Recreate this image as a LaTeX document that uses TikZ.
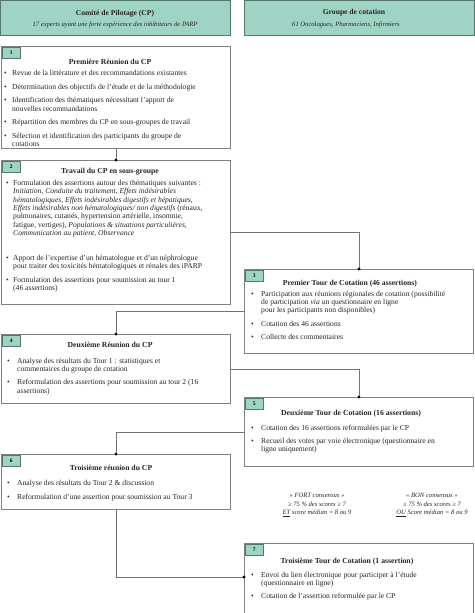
\documentclass[tikz,border=0pt]{standalone}
\usepackage{fontspec}
\setmainfont{Liberation Serif}
\usetikzlibrary{shadows}
\definecolor{teal1}{HTML}{9FD4C4}
\definecolor{teal2}{HTML}{55786E}
\definecolor{boxline}{HTML}{808080}
\definecolor{txt}{HTML}{262626}
\newcommand{\bl}{\textbullet}
\tikzset{
 hdr/.style={draw=teal2, fill=teal1, line width=0.6pt, anchor=north west, minimum width=230pt, minimum height=35pt, inner sep=0pt, drop shadow={shadow xshift=0.8pt, shadow yshift=-0.8pt, opacity=0.7, fill=gray!80!black}},
 box/.style={draw=boxline, fill=white, line width=0.8pt, anchor=north west, inner sep=0pt, drop shadow={shadow xshift=0.9pt, shadow yshift=-0.9pt, opacity=0.7, fill=gray!70!black}},
 tabbox/.style={draw=teal2, fill=teal1, line width=0.5pt, anchor=north west, minimum width=18pt, minimum height=10.5pt, inner sep=0pt, font=\fontsize{5.5}{6}\selectfont\bfseries},
 htitle/.style={font=\fontsize{7.6}{8}\selectfont\bfseries, text=txt},
 hsub/.style={font=\fontsize{6.6}{7}\selectfont\itshape, text=txt},
 ttl/.style={font=\fontsize{7.7}{8}\selectfont\bfseries, text=txt},
 lst/.style={anchor=base west, inner sep=0pt, font=\fontsize{7.6}{8.3}\selectfont, text=txt},
 cons/.style={align=center, font=\fontsize{6.6}{8.6}\selectfont\itshape, text=txt},
 conn/.style={draw=gray!90!black, line width=0.7pt},
 dot/.style={fill=black},
}
\begin{document}
\begin{tikzpicture}[x=1pt,y=-1pt]
\useasboundingbox (0,0) rectangle (474,613);
% headers
\node[hdr] (hL) at (0,0) {};
\node[hdr] (hR) at (244,0) {};
\node[htitle] (hLt) at (115,14) {Comité de Pilotage (CP)};
\node[hsub] (hLs) at (115,25) {17 experts ayant une forte expérience des inhibiteurs de PARP};
\node[htitle] (hRt) at (354,13) {Groupe de cotation};
\node[hsub] (hRs) at (346,25) {61 Oncologues, Pharmaciens, Infirmiers};
% boxes
\node[box, minimum width=229pt, minimum height=102pt] (b1) at (1,46) {};
\node[box, minimum width=229pt, minimum height=144pt] (b2) at (1,160) {};
\node[box, minimum width=229pt, minimum height=84pt] (b3) at (244,269) {};
\node[box, minimum width=229pt, minimum height=69pt] (b4) at (1,334) {};
\node[box, minimum width=229pt, minimum height=69pt] (b5) at (244,397) {};
\node[box, minimum width=229pt, minimum height=55pt] (b6) at (1,454) {};
\node[box, minimum width=229pt, minimum height=80pt] (b7) at (244,543) {};
\path (b7.north west) ++(0,34) coordinate (b7w);
% tabs
\node[tabbox] (t1) at (2,47) {1};
\node[tabbox] (t2) at (2,161) {2};
\node[tabbox] (t3) at (245,270) {3};
\node[tabbox] (t4) at (2,335) {4};
\node[tabbox] (t5) at (245,398) {5};
\node[tabbox] (t6) at (2,455) {6};
\node[tabbox] (t7) at (245,544) {7};
% titles
\node[ttl] (b1t) at (110,61.7) {Première Réunion du CP};
\node[ttl] (b2t) at (110,171.7) {Travail du CP en sous-groupe};
\node[ttl] (b3t) at (350,284) {Premier Tour de Cotation (46 assertions)};
\node[ttl] (b4t) at (110,345) {Deuxième Réunion du CP};
\node[ttl] (b5t) at (351,414) {Deuxième Tour de Cotation (16 assertions)};
\node[ttl] (b6t) at (111,468.3) {Troisième réunion du CP};
\node[ttl] (b7t) at (347,562) {Troisième Tour de Cotation (1 assertion)};
% lists
\node[lst] (b1l) at (4,75.5) {\begin{tabular}[t]{@{}p{8pt}@{}l@{}}
\bl & Revue de la littérature et des recommandations existantes\\[5.3pt]
\bl & Détermination des objectifs de l'étude et de la méthodologie\\[5.3pt]
\bl & Identification des thématiques nécessitant l'apport de\\
 & nouvelles recommandations\\[5.3pt]
\bl & Répartition des membres du CP en sous-groupes de travail\\[5.3pt]
\bl & Sélection et identification des participants du groupe de\\
 & cotations
\end{tabular}};
\node[lst] (b2l) at (6,185.5) {\begin{tabular}[t]{@{}p{7pt}@{}l@{}}
\bl & Formulation des assertions autour des thématiques suivantes :\\
 & \emph{Initiation}, \emph{Conduite du traitement}, \emph{Effets indésirables}\\
 & \emph{hématologiques}, \emph{Effets indésirables digestifs et hépatiques},\\
 & \emph{Effets indésirables non hématologiques/ non digestifs} (rénaux,\\
 & pulmonaires, cutanés, hypertension artérielle, insomnie,\\
 & fatigue, vertiges), \emph{Populations \& situations particulières},\\
 & \emph{Communication au patient}, \emph{Observance}\\[17pt]
\bl & Apport de l'expertise d'un hématologue et d'un néphrologue\\
 & pour traiter des toxicités hématologiques et rénales des iPARP\\[5.3pt]
\bl & Formulation des assertions pour soumission au tour 1\\
 & (46 assertions)
\end{tabular}};
\node[lst] (b3l) at (251,296) {\begin{tabular}[t]{@{}p{10pt}@{}l@{}}
\bl & Participation aux réunions régionales de cotation (possibilité\\
 & de participation \emph{via} un questionnaire en ligne\\
 & pour les participants non disponibles)\\[5.3pt]
\bl & Cotation des 46 assertions\\[5.3pt]
\bl & Collecte des commentaires
\end{tabular}};
\node[lst] (b4l) at (7,363) {\begin{tabular}[t]{@{}p{10pt}@{}l@{}}
\bl & Analyse des résultats du Tour 1 : statistiques et\\
 & commentaires du groupe de cotation\\[5.3pt]
\bl & Reformulation des assertions pour soumission au tour 2 (16\\
 & assertions)
\end{tabular}};
\node[lst] (b5l) at (251,430) {\begin{tabular}[t]{@{}p{10pt}@{}l@{}}
\bl & Cotation des 16 assertions reformulées par le CP\\[5.3pt]
\bl & Recueil des votes par voie électronique (questionnaire en\\
 & ligne uniquement)
\end{tabular}};
\node[lst] (b6l) at (7,485.5) {\begin{tabular}[t]{@{}p{10pt}@{}l@{}}
\bl & Analyse des résultats du Tour 2 \& discussion\\[5.3pt]
\bl & Reformulation d'une assertion pour soumission au Tour 3
\end{tabular}};
\node[lst] (b7l) at (251,577) {\begin{tabular}[t]{@{}p{10pt}@{}l@{}}
\bl & Envoi du lien électronique pour participer à l'étude\\
 & (questionnaire en ligne)\\[5.3pt]
\bl & Cotation de l'assertion reformulée par le CP
\end{tabular}};
% consensus
\node[cons] (c1) at (317,505) {« FORT consensus »\\ ≥ 75 \% des scores ≥ 7\\ \underline{ET} score médian = 8 ou 9};
\node[cons] (c2) at (432,505) {« BON consensus »\\ ≥ 75 \% des scores ≥ 7\\ \underline{OU} Score médian = 8 ou 9};
% connectors
\draw[conn] (b1.south) -- (b2.north);
\draw[conn] (b2.east) -| (b3.north);
\draw[conn] (b3.west) -| (b4.north);
\draw[conn] (b4.east) -| (b5.north);
\draw[conn] (b5.west) -| (b6.north);
\draw[conn] (b6.south) |- (b7w);
\foreach \p in {b2.north,b3.north,b4.north,b5.north,b6.north,b7w}
  \fill[dot] (\p) circle (1.6pt);
\end{tikzpicture}
\end{document}
